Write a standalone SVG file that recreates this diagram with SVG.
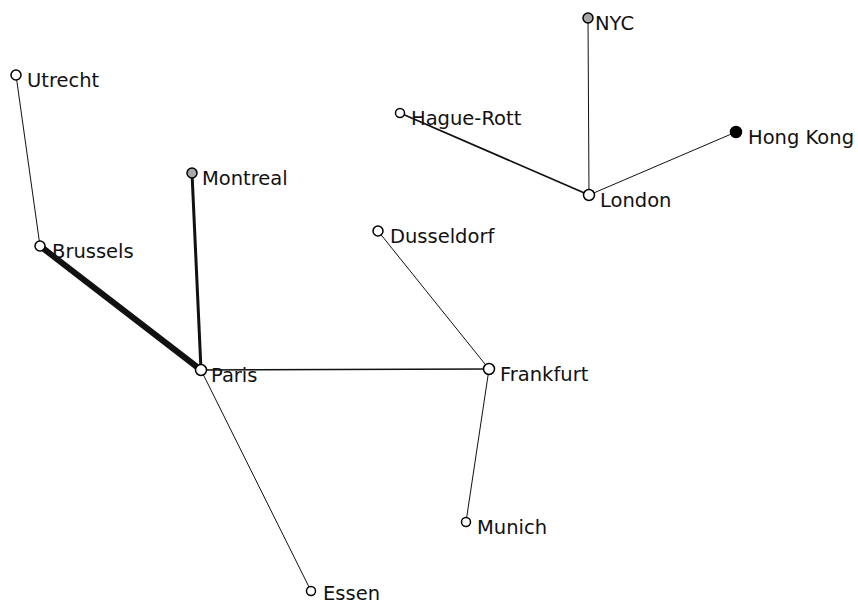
<svg xmlns="http://www.w3.org/2000/svg" width="858" height="606" viewBox="0 0 858 606">
<style>
.n{stroke:#000;stroke-width:1.5;fill:#fff}
.g{fill:#a8a8a8}
.b{fill:#000}
text{font-family:"DejaVu Sans",Verdana,sans-serif;font-size:19.5px;fill:#111}
.e{stroke:#111;fill:none}
</style>
<rect width="858" height="606" fill="#fff"/>
<g id="edges">
<line class="e" x1="16" y1="75" x2="40" y2="246" stroke-width="1"/>
<line class="e" x1="40" y1="246" x2="201" y2="370" stroke-width="6"/>
<line class="e" x1="192" y1="173" x2="201" y2="370" stroke-width="3"/>
<line class="e" x1="201" y1="370" x2="489" y2="369" stroke-width="1.6"/>
<line class="e" x1="201" y1="370" x2="311" y2="591" stroke-width="1"/>
<line class="e" x1="378" y1="231" x2="489" y2="369" stroke-width="1"/>
<line class="e" x1="489" y1="369" x2="466" y2="522" stroke-width="1"/>
<line class="e" x1="400" y1="113" x2="589" y2="195" stroke-width="1.8"/>
<line class="e" x1="588" y1="18" x2="589" y2="195" stroke-width="1"/>
<line class="e" x1="736" y1="132" x2="589" y2="195" stroke-width="1"/>
</g>
<g id="utrecht"><circle class="n" cx="16" cy="75" r="5"/><text x="27" y="87">Utrecht</text></g>
<g id="brussels"><circle class="n" cx="40" cy="246" r="5"/><text x="52" y="258">Brussels</text></g>
<g id="montreal"><circle class="n g" cx="192" cy="173" r="5"/><text x="202" y="185">Montreal</text></g>
<g id="paris"><circle class="n" cx="201" cy="370" r="5.5"/><text x="211" y="382">Paris</text></g>
<g id="hague"><circle class="n" cx="400" cy="113" r="4.5"/><text x="411" y="125">Hague-Rott</text></g>
<g id="nyc"><circle class="n g" cx="588" cy="18" r="5"/><text x="595" y="30">NYC</text></g>
<g id="london"><circle class="n" cx="589" cy="195" r="5.5"/><text x="600" y="207">London</text></g>
<g id="hongkong"><circle class="n b" cx="736" cy="132" r="5.5"/><text x="748" y="144">Hong Kong</text></g>
<g id="dusseldorf"><circle class="n" cx="378" cy="231" r="5"/><text x="390" y="243">Dusseldorf</text></g>
<g id="frankfurt"><circle class="n" cx="489" cy="369" r="5.5"/><text x="500" y="381">Frankfurt</text></g>
<g id="munich"><circle class="n" cx="466" cy="522" r="4.5"/><text x="477" y="534">Munich</text></g>
<g id="essen"><circle class="n" cx="311" cy="591" r="4.5"/><text x="323" y="600">Essen</text></g>
</svg>
